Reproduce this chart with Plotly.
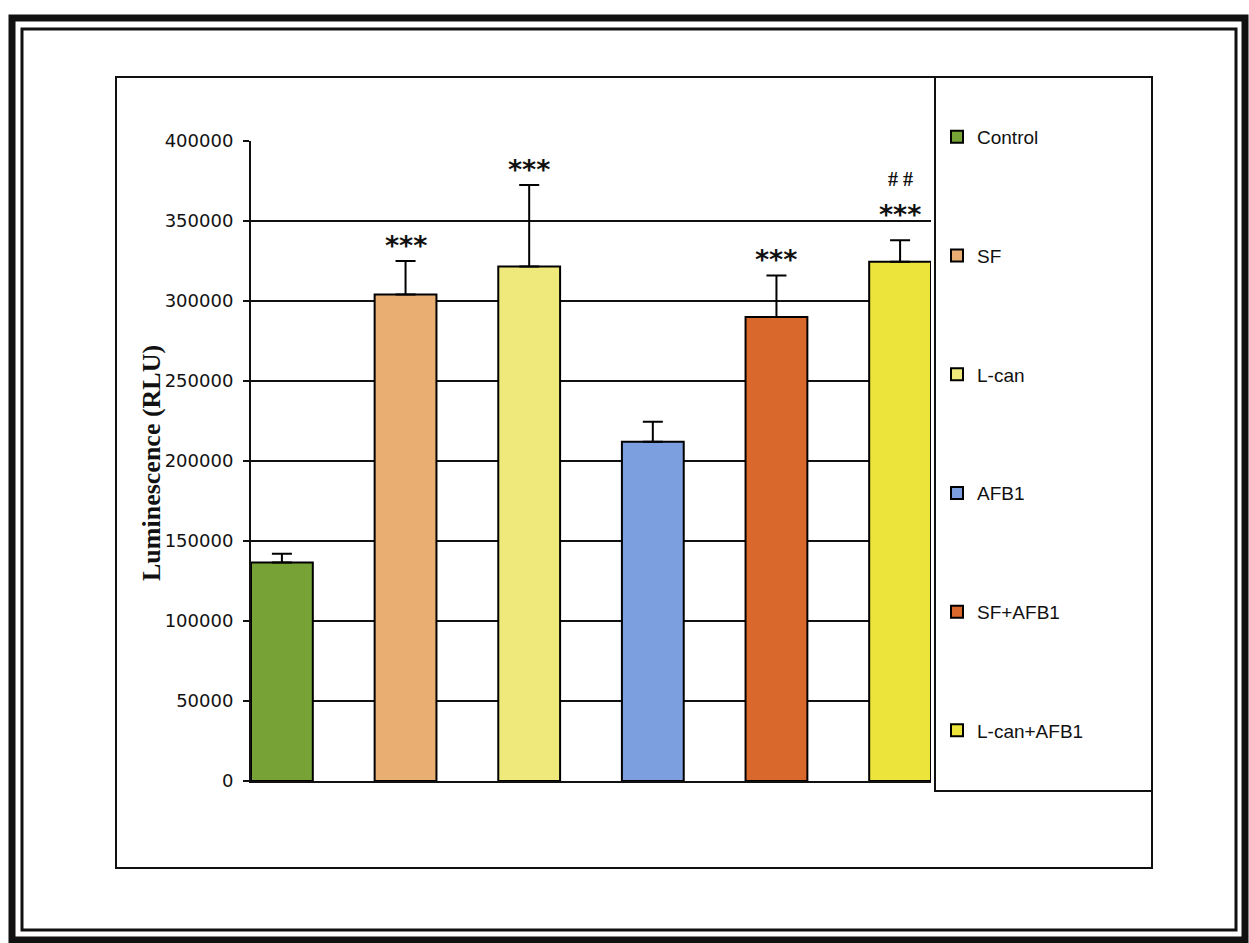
import plotly.graph_objects as go

# ---------------- data ----------------
categories = ["Control", "SF", "L-can", "AFB1", "SF+AFB1", "L-can+AFB1"]
values = [136500, 304000, 321500, 212000, 290000, 324500]
errors = [5500, 21000, 51000, 12500, 26000, 13500]
stars = ["", "***", "***", "", "***", "***"]
hashes = ["", "", "", "", "", "# #"]
colors = ["#76A236", "#E8AE72", "#EEE97A", "#7C9FE0", "#D9682C", "#ECE43A"]
y_ticks = [0, 50000, 100000, 150000, 200000, 250000, 300000, 350000, 400000]

# ---------------- geometry helpers (pixel -> paper) ----------------
W, H = 1249, 943
PL, PR, PT, PB = 251, 931, 141, 781  # plot area in pixels


def xp(px):
    return (px - PL) / (PR - PL)


def yp(py):
    return (PB - py) / (PB - PT)


fig = go.Figure()
for i, (cat, v, e, c) in enumerate(zip(categories, values, errors, colors)):
    fig.add_trace(go.Bar(
        x=[i], y=[v], name=cat, width=0.5,
        marker=dict(color=c, line=dict(color="black", width=2)),
        error_y=dict(type="data", array=[e], arrayminus=[0], symmetric=False,
                     color="black", thickness=2, width=10),
        legendgroup=cat, showlegend=True,
    ))

annotations = []
for i, (v, e, s, h) in enumerate(zip(values, errors, stars, hashes)):
    lift = 10 if h else 0
    if s:
        annotations.append(dict(x=i, y=v + e, xref="x", yref="y", text="<b>" + s + "</b>",
                                showarrow=False, yanchor="bottom", yshift=-2 + lift,
                                font=dict(family="DejaVu Sans", size=27, color="#111")))
    if h:
        annotations.append(dict(x=i, y=v + e, xref="x", yref="y", text="<b>" + h + "</b>",
                                showarrow=False, yanchor="bottom", yshift=38 + lift,
                                font=dict(family="Liberation Serif", size=20, color="#111")))

annotations.append(dict(x=xp(151), y=yp(463), xref="paper", yref="paper",
                        text="<b>Luminescence (RLU)</b>", textangle=-90, showarrow=False,
                        xanchor="center", yanchor="middle",
                        font=dict(family="Liberation Serif", size=26, color="#111")))

shapes = [
    # page double frame
    dict(type="rect", xref="paper", yref="paper", x0=xp(12), x1=xp(1245), y0=yp(18), y1=yp(940),
         line=dict(color="#111", width=7), layer="above"),
    dict(type="rect", xref="paper", yref="paper", x0=xp(22), x1=xp(1236), y0=yp(29), y1=yp(930),
         line=dict(color="#111", width=3), layer="above"),
    # chart area frame
    dict(type="rect", xref="paper", yref="paper", x0=xp(116), x1=xp(1152), y0=yp(77), y1=yp(868),
         line=dict(color="#111", width=2), layer="above"),
    # legend box
    dict(type="rect", xref="paper", yref="paper", x0=xp(935), x1=xp(1152), y0=yp(77), y1=yp(791),
         line=dict(color="#111", width=2), layer="above"),
]

fig.update_layout(
    width=W, height=H,
    margin=dict(l=PL, r=W - PR, t=PT, b=H - PB, autoexpand=False),
    paper_bgcolor="white", plot_bgcolor="white",
    barmode="overlay",
    showlegend=True,
    legend=dict(x=xp(937), y=yp(118), xanchor="left", yanchor="top",
                traceorder="grouped", tracegroupgap=91, maxheight=900,
                font=dict(family="Liberation Sans", size=19, color="#111"),
                bgcolor="rgba(0,0,0,0)", borderwidth=0),
    xaxis=dict(range=[-0.25, 5.25], showticklabels=False, ticks="", showgrid=False,
               zeroline=False, showline=True, linecolor="#111", linewidth=2),
    yaxis=dict(range=[0, 400000], tickvals=y_ticks, ticktext=[str(t) for t in y_ticks],
               showgrid=True, gridcolor="#111", gridwidth=2, zeroline=False,
               showline=True, linecolor="#111", linewidth=2,
               ticks="outside", ticklen=6, tickwidth=2, tickcolor="#111",
               ticklabelstandoff=6,
               tickfont=dict(family="DejaVu Sans", size=18, color="#111")),
    annotations=annotations,
    shapes=shapes,
)

fig.write_html("out.html")
